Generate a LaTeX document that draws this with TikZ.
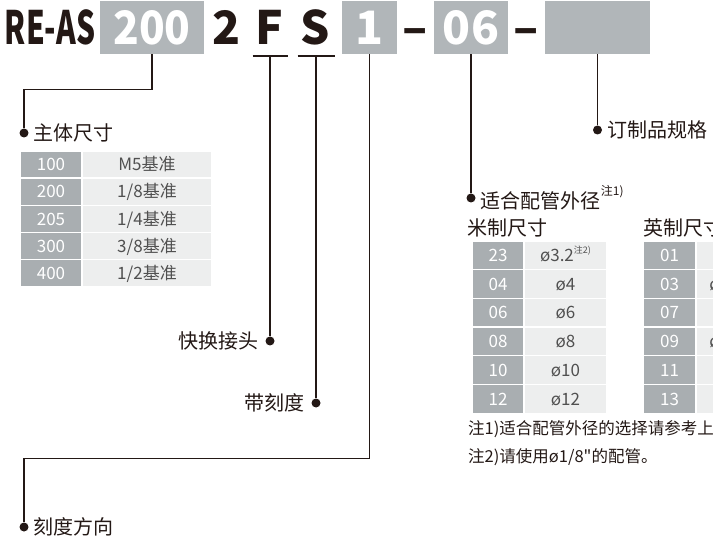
\documentclass[tikz,border=0pt]{standalone}
\usepackage{fontspec}
\setmainfont{Noto Sans CJK SC}[Ligatures=TeXOff]
\usetikzlibrary{positioning}
\definecolor{codeGray}{RGB}{169,174,177}
\definecolor{boxGray}{RGB}{177,182,185}
\definecolor{cellLight}{RGB}{237,238,238}
\definecolor{inkDark}{RGB}{35,24,21}
\definecolor{cellText}{RGB}{80,80,80}

\begin{document}
\begin{tikzpicture}[x=1pt,y=-1pt,
  big/.style={font=\fontsize{46}{46}\selectfont\bfseries,text=inkDark,inner sep=0pt,
    minimum height=53pt,text height=33.7pt,text depth=0pt},
  codebox/.style={big,fill=boxGray,text=white},
  lead/.style={draw=inkDark,line width=1.1pt},
  leaddot/.style={circle,fill=inkDark,inner sep=0pt,minimum size=9pt},
  lbl/.style={font=\fontsize{20}{24}\selectfont,text=inkDark,inner sep=0pt},
  note/.style={font=\fontsize{16.5}{19}\selectfont,text=inkDark,inner sep=0pt,anchor=base west},
  cell/.style={draw=white,line width=1.4pt,inner sep=0pt,font=\fontsize{17}{20}\selectfont,
    text height=12.4pt,text depth=0pt},
  codecell/.style={cell,fill=codeGray,text=white},
  sizecell/.style={cell,fill=cellLight,text=cellText}]
\useasboundingbox (0,0) rectangle (713,540);
\clip (0,0) rectangle (713,540);

% model code
\node[big] (series) at (50,27.5) {\scalebox{0.65}[1]{RE-AS}};
\node[codebox,minimum width=104pt] (bsize) at (152,27.5) {\scalebox{0.92}[1]{200}};
\node[big] (ports) at (227,27.5) {2};
\node[big] (ff) at (269,27.5) {F};
\node[big] (ss) at (315,27.5) {S};
\node[codebox,minimum width=55pt] (bdir) at (369.5,27.5) {1};
\node[big] (dasha) at (415.5,27.5) {–};
\node[codebox,minimum width=74pt] (btube) at (471,27.5) {06};
\node[big] (dashb) at (526.5,27.5) {–};
\node[codebox,minimum width=105pt] (bspec) at (597.5,27.5) {};

% leaders
\node[leaddot] (dbody) at (24,133) {};
\node[lbl,right=5pt of dbody] (lbody) {主体尺寸};
\draw[lead] (bsize.south) -- ++(0,35) -| (dbody);

\coordinate (fjoint) at (270,56);
\node[leaddot] (dquick) at (270,341) {};
\node[lbl,left=7pt of dquick] (lquick) {快换接头};
\draw[lead] ([xshift=-17.5pt]fjoint) -- ([xshift=17.5pt]fjoint);
\draw[lead] (fjoint) -- (dquick);

\coordinate (sjoint) at (316,56);
\node[leaddot] (dscale) at (316,403) {};
\node[lbl,left=7pt of dscale] (lscale) {带刻度};
\draw[lead] ([xshift=-18.5pt]sjoint) -- ([xshift=18.5pt]sjoint);
\draw[lead] (sjoint) -- (dscale);

\node[leaddot] (ddir) at (24,527) {};
\node[lbl,right=5pt of ddir] (ldir) {刻度方向};
\draw[lead] (bdir.south) -- ++(0,404) -| (ddir);

\node[leaddot] (dtube) at (471,198) {};
\node[lbl,right=5pt of dtube] (ltube) {适合配管外径\raisebox{1.2ex}{\fontsize{12}{13}\selectfont 注1)}};
\draw[lead] (btube.south) -- (dtube);

\node[leaddot] (dspec) at (597.5,130) {};
\node[lbl,right=5pt of dspec] (lspec) {订制品规格};
\draw[lead] (bspec.south) -- (dspec);

% body size table
\foreach \code/\thread [count=\i] in {100/{M5基准},200/{1/8基准},205/{1/4基准},300/{3/8基准},400/{1/2基准}}{
  \node[codecell,minimum width=62pt,minimum height=27.2pt] (bc\i) at (51,{151+27.2*(\i-0.5)}) {\code};
  \node[sizecell,minimum width=130pt,minimum height=27.2pt] (bt\i) at (147,{151+27.2*(\i-0.5)}) {\thread};
}

% tube tables
\node[lbl,anchor=west] (lmetric) at (467,228) {米制尺寸};
\node[lbl,anchor=west] (linch) at (643,228) {英制尺寸};
\foreach \code/\tube [count=\i] in {23/{ø3.2\raisebox{0.9ex}{\fontsize{9}{9}\selectfont 注2)}},04/ø4,06/ø6,08/ø8,10/ø10,12/ø12}{
  \node[codecell,minimum width=52pt,minimum height=28.7pt] (mc\i) at (498,{241+28.7*(\i-0.5)}) {\code};
  \node[sizecell,minimum width=83pt,minimum height=28.7pt] (mt\i) at (565.5,{241+28.7*(\i-0.5)}) {\tube};
}
\foreach \code/\tube [count=\i] in {01/{ø1/8"},03/{ø5/32"},07/{ø1/4"},09/{ø5/16"},11/{ø3/8"},13/{ø1/2"}}{
  \node[codecell,minimum width=53pt,minimum height=28.7pt] (ic\i) at (669.5,{241+28.7*(\i-0.5)}) {\code};
  \node[sizecell,minimum width=80pt,minimum height=28.7pt] (it\i) at (736,{241+28.7*(\i-0.5)}) {\tube};
}

% notes
\node[note] (nnote1) at (468,434) {注1)适合配管外径的选择请参考上表。};
\node[note] (nnote2) at (468,462) {注2)请使用ø1/8"的配管。};
\end{tikzpicture}
\end{document}
